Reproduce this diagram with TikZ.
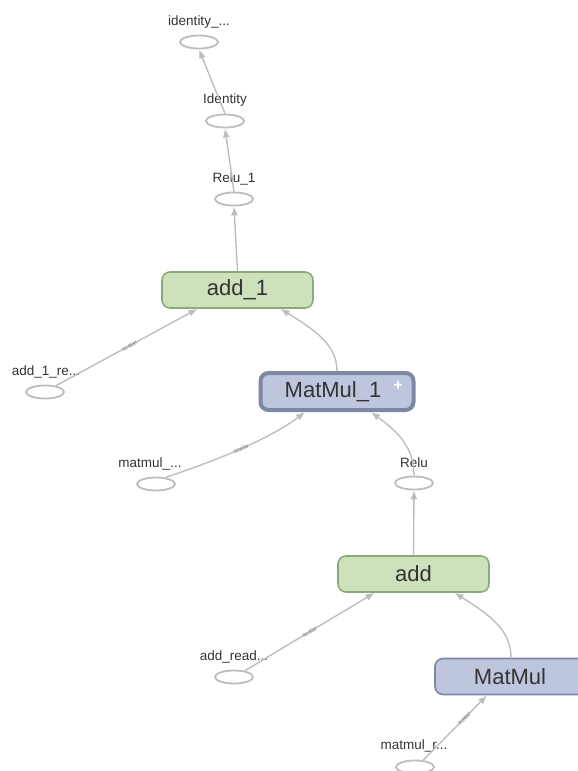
\documentclass[tikz,border=0pt]{standalone}
\usepackage{fontspec}
\setmainfont{Liberation Sans}
\usetikzlibrary{arrows.meta,shapes.geometric,calc}
\definecolor{edgec}{HTML}{BDBDBD}
\definecolor{txtc}{HTML}{333333}
\definecolor{greenf}{HTML}{CDE1BC}
\definecolor{greend}{HTML}{8DA97A}
\definecolor{bluef}{HTML}{BEC6DE}
\definecolor{blued}{HTML}{7E88A4}
\tikzset{
  opnode/.style={ellipse,draw=edgec,line width=1.8pt,fill=white,minimum width=38pt,minimum height=13pt,inner sep=0pt},
  oplabel/.style={font=\fontsize{13.5}{15}\selectfont,text=txtc,inner sep=0pt},
  greenbox/.style={rounded corners=8pt,draw=greend,fill=greenf,line width=1.6pt,minimum width=151pt,minimum height=36pt,font=\fontsize{22}{26}\selectfont,text=txtc},
  bluebox/.style={rounded corners=8pt,draw=blued,fill=bluef,line width=1.6pt,minimum width=151pt,minimum height=36pt,font=\fontsize{22}{26}\selectfont,text=txtc},
  edge/.style={draw=edgec,line width=1.4pt,-{Latex[length=9pt,width=7pt]}},
  elab/.style={font=\fontsize{6}{7}\selectfont,text=gray,sloped,inner sep=0.5pt}
}
\begin{document}
\begin{tikzpicture}[x=1pt,y=-1pt]
\useasboundingbox (0,0) rectangle (578,771);
% small op nodes
\node[opnode] (idout) at (199,42) {};
\node[oplabel] (idoutl) at (199,22) {identity\_...};
\node[opnode] (ident) at (225,121) {};
\node[oplabel] (identl) at (225,100) {Identity};
\node[opnode] (relu1) at (234,199) {};
\node[oplabel] (relu1l) at (234,179) {Relu\_1};
\node[opnode] (add1r) at (45,392) {};
\node[oplabel] (add1rl) at (46,372) {add\_1\_re...};
\node[opnode] (mmr) at (156,484) {};
\node[oplabel] (mmrl) at (150,464) {matmul\_...};
\node[opnode] (relu) at (414,483) {};
\node[oplabel] (relul) at (414,463) {Relu};
\node[opnode] (addr) at (234,677) {};
\node[oplabel] (addrl) at (234,657) {add\_read...};
\node[opnode] (mmr2) at (415,767) {};
\node[oplabel] (mmr2l) at (414,746) {matmul\_r...};
% boxes
\node[greenbox] (add1) at (237.5,290) {add\_1};
\node[bluebox,line width=4pt,minimum width=153pt,minimum height=37pt] (mm1) at (337,391.5) {\hspace*{-8pt}MatMul\_1};
\node[text=white,font=\fontsize{16}{16}\selectfont\bfseries,inner sep=0pt] (plus) at (398,386) {+};
\node[greenbox] (add) at (413.5,574) {add};
\node[bluebox,minimum width=154pt] (mm) at (512,676.5) {\hspace*{-4pt}MatMul};
% edges
\draw[edge] (ident.north) -- (idout.south);
\draw[edge] (relu1.north) -- (ident.south);
\draw[edge] (add1.north) -- (relu1.south);
\draw[edge] (add1r.30) -- node[elab,pos=0.52] {scalar} ([xshift=-40pt]add1.south);
\draw[edge] (mm1.north) .. controls (337,345) and (315,330) .. ([xshift=43pt]add1.south);
\draw[edge] (mmr.35) .. controls (230,456) and (275,435) .. node[elab,pos=0.45] {scalar} ([xshift=-32pt]mm1.south);
\draw[edge] (relu.north) .. controls (414,445) and (395,430) .. ([xshift=34pt]mm1.south);
\draw[edge] (add.north) -- (relu.south);
\draw[edge] (addr.30) -- node[elab,pos=0.5] {scalar} ([xshift=-39pt]add.south);
\draw[edge] (mm.north -| 511,0) .. controls (511,630) and (490,615) .. ([xshift=41pt]add.south);
\draw[edge] (mmr2.40) -- node[elab,pos=0.64] {scalar} ([xshift=-25pt]mm.south);
\end{tikzpicture}
\end{document}
